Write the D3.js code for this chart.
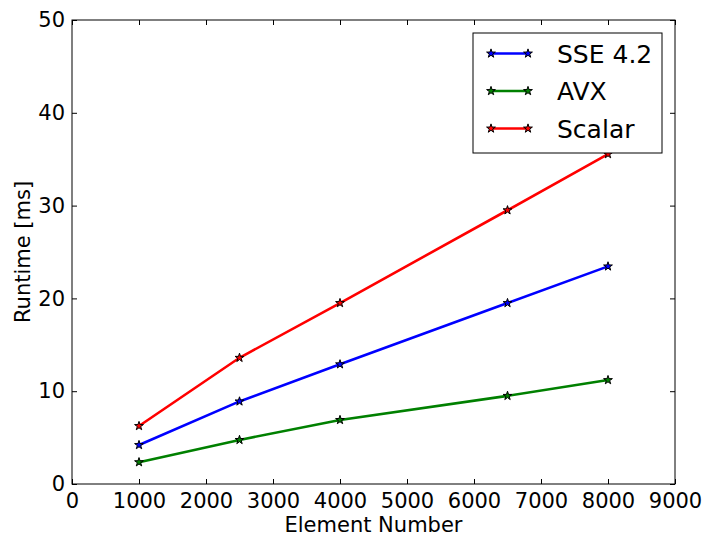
<!DOCTYPE html>
<html>
<head>
<meta charset="utf-8">
<script src="https://cdn.jsdelivr.net/npm/d3@7"></script>
<style>
  body { margin: 0; background: #fff; }
  text { font-family: "DejaVu Sans", sans-serif; fill: #000; }
</style>
</head>
<body>
<div id="chart"></div>
<script>
// chart data
const elementNumbers = [1000, 2500, 4000, 6500, 8000];
const sseValues = [4.2, 8.9, 12.9, 19.5, 23.45];
const avxValues = [2.35, 4.75, 6.9, 9.5, 11.2];
const scalarValues = [6.25, 13.6, 19.5, 29.5, 35.55];
const xTicks = [0, 1000, 2000, 3000, 4000, 5000, 6000, 7000, 8000, 9000];
const yTicks = [0, 10, 20, 30, 40, 50];

const seriesList = [
  {name: 'SSE 4.2', values: sseValues, color: '#0000ff'},
  {name: 'AVX', values: avxValues, color: '#008000'},
  {name: 'Scalar', values: scalarValues, color: '#ff0000'}
];

const width = 705, height = 538;
const margin = {top: 20, right: 30, bottom: 54, left: 72};
const plotW = width - margin.left - margin.right;
const plotH = height - margin.top - margin.bottom;

const svg = d3.select('#chart')
  .append('svg')
  .attr('width', width)
  .attr('height', height);

const g = svg.append('g')
  .attr('transform', `translate(${margin.left}, ${margin.top})`);

const xScale = d3.scaleLinear().domain([0, 9000]).range([0, plotW]);
const yScale = d3.scaleLinear().domain([0, 50]).range([plotH, 0]);

// inward ticks on all four sides
function styleAxis(sel) {
  sel.select('.domain').remove();
  sel.selectAll('line').attr('stroke', '#000').attr('stroke-width', 1);
  sel.selectAll('text').style('font-size', '21px');
}

g.append('g')
  .attr('transform', `translate(0, ${plotH})`)
  .call(d3.axisBottom(xScale).tickValues(xTicks).tickSize(-5).tickPadding(9).tickFormat(d3.format('d')))
  .call(styleAxis);
g.append('g')
  .call(d3.axisTop(xScale).tickValues(xTicks).tickSize(-5).tickFormat(''))
  .call(styleAxis);
g.append('g')
  .call(d3.axisLeft(yScale).tickValues(yTicks).tickSize(-5).tickPadding(7))
  .call(styleAxis);
g.append('g')
  .attr('transform', `translate(${plotW}, 0)`)
  .call(d3.axisRight(yScale).tickValues(yTicks).tickSize(-5).tickFormat(''))
  .call(styleAxis);

g.selectAll('.tick text').attr('font-family', 'DejaVu Sans');

// frame
g.append('rect')
  .attr('width', plotW)
  .attr('height', plotH)
  .attr('fill', 'none')
  .attr('stroke', '#000')
  .attr('stroke-width', 1);

const line = d3.line()
  .x((d, i) => xScale(elementNumbers[i]))
  .y(d => yScale(d));

const star = d3.symbol().type(d3.symbolStar).size(24);

seriesList.forEach(s => {
  g.append('path')
    .attr('d', line(s.values))
    .attr('fill', 'none')
    .attr('stroke', s.color)
    .attr('stroke-width', 2.6);
  g.selectAll(null)
    .data(s.values)
    .enter()
    .append('path')
    .attr('d', star)
    .attr('transform', (d, i) => `translate(${xScale(elementNumbers[i])}, ${yScale(d)})`)
    .attr('fill', s.color)
    .attr('stroke', '#000')
    .attr('stroke-width', 1);
});

// axis labels
svg.append('text')
  .attr('x', margin.left + plotW / 2)
  .attr('y', 532)
  .attr('text-anchor', 'middle')
  .style('font-size', '21px')
  .text('Element Number');

svg.append('text')
  .attr('transform', `translate(30, ${margin.top + plotH / 2}) rotate(-90)`)
  .attr('text-anchor', 'middle')
  .style('font-size', '21px')
  .text('Runtime [ms]');

// legend
const legend = svg.append('g').attr('transform', 'translate(473, 33)');
legend.append('rect')
  .attr('width', 189)
  .attr('height', 120)
  .attr('fill', '#fff')
  .attr('stroke', '#000')
  .attr('stroke-width', 1);

seriesList.forEach((s, i) => {
  const y = 20.5 + i * 37.5;
  legend.append('line')
    .attr('x1', 18).attr('x2', 55)
    .attr('y1', y).attr('y2', y)
    .attr('stroke', s.color)
    .attr('stroke-width', 2.6);
  [18, 55].forEach(x => {
    legend.append('path')
      .attr('d', star)
      .attr('transform', `translate(${x}, ${y})`)
      .attr('fill', s.color)
      .attr('stroke', '#000')
      .attr('stroke-width', 1);
  });
  legend.append('text')
    .attr('x', 84)
    .attr('y', y)
    .attr('dy', '0.36em')
    .style('font-size', '25px')
    .text(s.name);
});
</script>
</body>
</html>
